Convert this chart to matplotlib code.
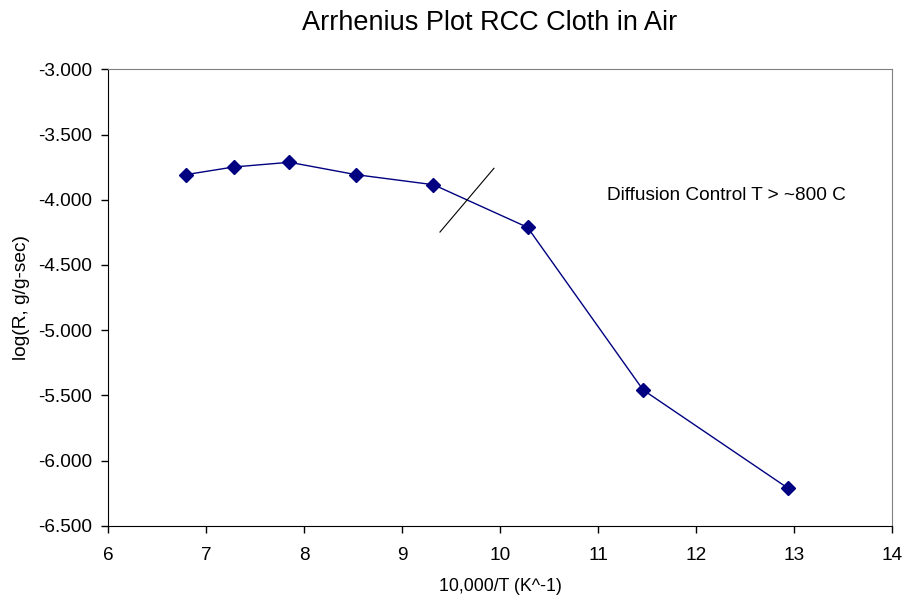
import matplotlib
matplotlib.use('Agg')
import matplotlib.pyplot as plt
from matplotlib.ticker import FormatStrFormatter, MultipleLocator

plt.rcParams['font.family'] = ['Liberation Sans', 'DejaVu Sans']

# data
inv_t = [6.79, 7.28, 7.85, 8.53, 9.32, 10.28, 11.46, 12.94]
log_r = [-3.808, -3.749, -3.713, -3.808, -3.885, -4.212, -5.459, -6.213]

# hand-drawn divider line
div_x = [9.386, 9.937]
div_y = [-4.248, -3.759]

note = 'Diffusion Control T > ~800 C'
note_x, note_y = 11.09, -3.969

fig = plt.figure(figsize=(9.06, 5.97), dpi=100)
ax = fig.add_axes([0.1195, 0.1194, 0.8650, 0.7645])

ax.plot(inv_t, log_r, linestyle='-', marker='D', color='#000080',
        linewidth=1.0, markersize=7.2)
ax.plot(div_x, div_y, color='black', linewidth=0.8)
ax.text(note_x, note_y, note, fontsize=13.7, va='center', ha='left')

ax.set_xlim(6, 14)
ax.set_ylim(-6.5, -3.0)
ax.xaxis.set_major_locator(MultipleLocator(1))
ax.yaxis.set_major_locator(MultipleLocator(0.5))
ax.yaxis.set_major_formatter(FormatStrFormatter('%.3f'))
ax.tick_params(direction='out', length=4.7, width=1, labelsize=13.7)
ax.tick_params(axis='x', pad=10.5)
ax.tick_params(axis='y', pad=7)

for side in ['top', 'right']:
    ax.spines[side].set_color('#808080')
for side in ['left', 'bottom']:
    ax.spines[side].set_color('black')

ax.set_xlabel('10,000/T (K^-1)', fontsize=12.8, labelpad=10)
ax.set_ylabel('log(R, g/g-sec)', fontsize=13.8, labelpad=6)
fig.suptitle('Arrhenius Plot RCC Cloth in Air', fontsize=19.5, x=0.5407, y=0.984)

fig.savefig('out.png', dpi=100)
